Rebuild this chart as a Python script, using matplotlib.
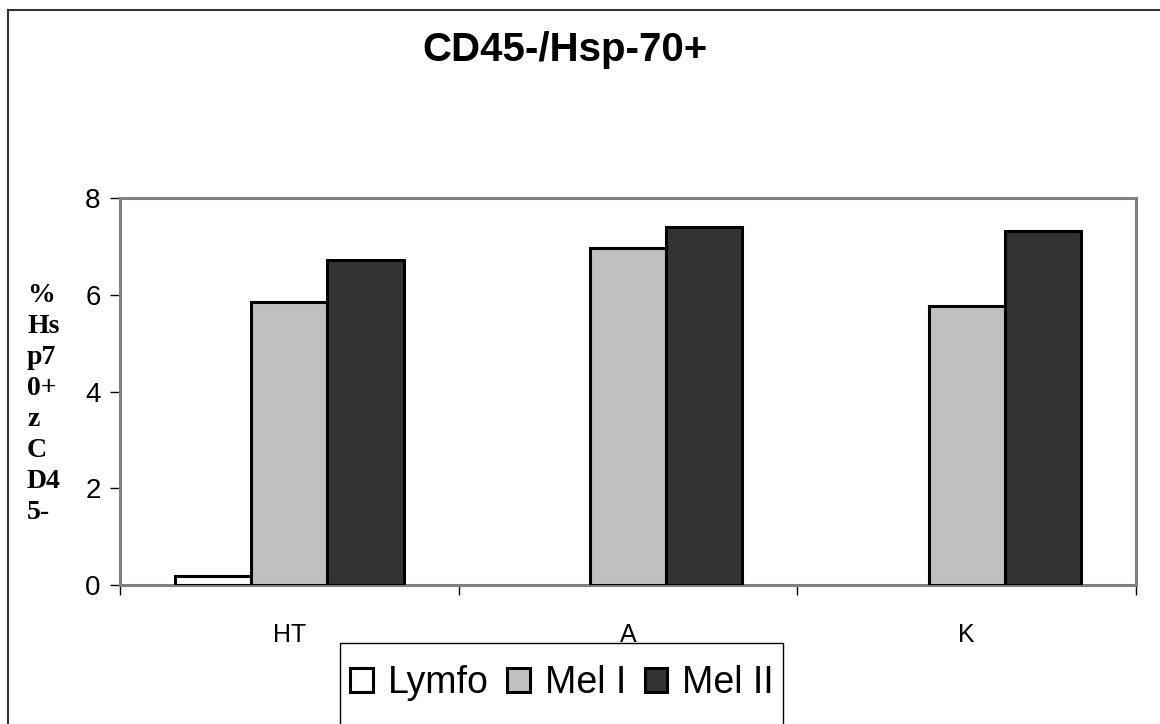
import matplotlib
matplotlib.use("Agg")
import matplotlib.pyplot as plt
import numpy as np
from matplotlib.lines import Line2D
from matplotlib.patches import Rectangle

groups = ["HT", "A", "K"]
series = ["Lymfo", "Mel I", "Mel II"]
lymfo = [0.19, np.nan, np.nan]
mel1 = [5.85, 6.96, 5.76]
mel2 = [6.71, 7.40, 7.31]
colors = ["#FFFFFF", "#C0C0C0", "#333333"]

narrow = ["Liberation Sans Narrow", "Liberation Sans", "DejaVu Sans"]

fig = plt.figure(figsize=(11.6, 7.24), dpi=100)
ax = fig.add_axes([120 / 1160, 1 - 585 / 724, 1016 / 1160, 387 / 724])

x = np.arange(len(groups))
w = 0.225
for i, (vals, c, name) in enumerate(zip([lymfo, mel1, mel2], colors, series)):
    ax.bar(x + (i - 1) * w, vals, width=w, color=c, edgecolor="black",
           linewidth=2.2, label=name, zorder=3)

ax.set_xlim(-0.5, 2.5)
ax.set_ylim(0, 8)
ax.set_yticks([0, 2, 4, 6, 8])
ax.set_xticks([-0.5, 0.5, 1.5, 2.5])
ax.set_xticklabels([])
ax.set_xticks(x, minor=True)
ax.set_xticklabels(groups, minor=True, fontsize=18, family=narrow)
ax.tick_params(axis="x", which="minor", length=0, pad=27)
ax.tick_params(axis="x", which="major", length=7, direction="out", width=1)
ax.tick_params(axis="y", length=7, direction="out", width=1, pad=7)
for lab in ax.get_yticklabels():
    lab.set_fontsize(20)
    lab.set_family(narrow)

for sp in ax.spines.values():
    sp.set_color("#808080")
    sp.set_linewidth(2.2)

fig.text(27 / 1160, 1 - 404 / 724, "%\nHs\np7\n0+\nz\nC\nD4\n5-",
         family="Liberation Serif", fontweight="bold", fontsize=20,
         ha="left", va="center", linespacing=1.32, multialignment="left")

fig.text(565 / 1160, 1 - 50 / 724, "CD45-/Hsp-70+", family=narrow,
         fontweight="bold", fontsize=29, ha="center", va="center")

# legend box, running off the bottom edge
fig.patches.append(Rectangle((340 / 1160, -0.05), 443 / 1160, 0.05 + 81 / 724,
                             transform=fig.transFigure, fill=False,
                             edgecolor="black", linewidth=1))
leg = ax.legend(loc="center", bbox_to_anchor=(562 / 1160, 1 - 683 / 724),
                bbox_transform=fig.transFigure, ncol=3, frameon=False,
                handlelength=0.6, handleheight=0.6, handletextpad=0.4,
                columnspacing=0.5, borderpad=0,
                prop={"family": narrow, "size": 27})

# outer frame
fig.add_artist(Line2D([8 / 1160, 1], [1 - 10 / 724] * 2, color="#333333",
                      linewidth=1.5, transform=fig.transFigure))
fig.add_artist(Line2D([8 / 1160] * 2, [0, 1 - 10 / 724], color="#333333",
                      linewidth=1.5, transform=fig.transFigure))

fig.savefig("out.png", dpi=100)
